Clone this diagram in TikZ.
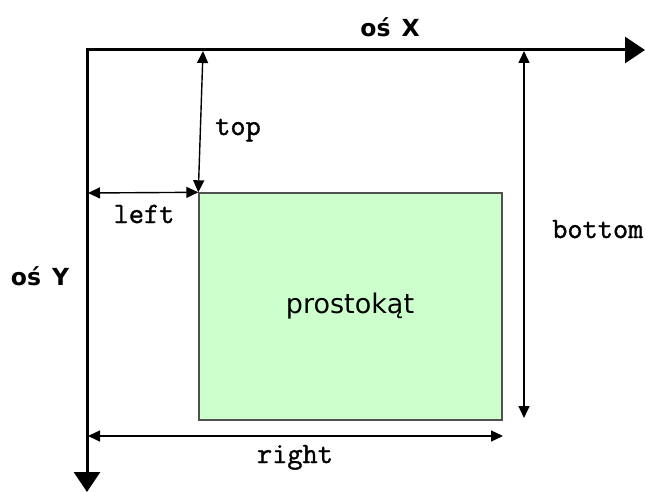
\documentclass[tikz,border=0pt]{standalone}
\usepackage{fontspec}
\setmainfont{DejaVu Sans}
\newfontfamily\axisfont{DejaVu Sans Bold}
\newfontfamily\codefont[FakeBold=1.2]{Latin Modern Mono}
\usetikzlibrary{arrows.meta}
\definecolor{rectfill}{HTML}{CCFFCC}
\definecolor{rectline}{HTML}{505050}
\begin{document}
\begin{tikzpicture}[x=1pt, y=-1pt,
  axis/.style={line width=3pt, {Triangle[length=20pt, width=26pt]}-{Triangle[length=20pt, width=26pt]}},
  dim/.style={line width=1.4pt, {Triangle[length=12pt, width=11pt]}-{Triangle[length=12pt, width=11pt]}},
  axislabel/.style={anchor=base, inner sep=0pt, font=\axisfont\fontsize{23.5}{28}\selectfont},
  dimlabel/.style={anchor=base, inner sep=0pt, font=\codefont\fontsize{29.5}{33}\selectfont},
  rect/.style={draw=rectline, line width=1.4pt, fill=rectfill, minimum width=303pt, minimum height=227pt,
    inner sep=0pt}]
  \useasboundingbox (0,0) rectangle (645,492);
  % coordinate axes
  \coordinate (origin) at (87,50);
  \coordinate (xend) at (645,50);
  \coordinate (yend) at (87,492);
  \draw[axis] (xend) -- (origin) -- (yend);
  \node[axislabel] (xlab) at (390,37) {oś\hspace{11pt}X};
  \node[axislabel] (ylab) at (40,285) {oś\hspace{11pt}Y};
  % the rectangle
  \node[rect] (r) at (350.5,306.5) {};
  \node[anchor=base, inner sep=0pt, font=\fontsize{27}{31}\selectfont] (rlab) at (350,313) {prostokąt};
  % dimension arrows
  \coordinate (topstart) at (203,51);
  \coordinate (leftstart) at (88,193);
  \coordinate (botstart) at (524,51);
  \coordinate (botend) at (524,418);
  \coordinate (rightstart) at (88,436);
  \coordinate (rightend) at (503,436);
  \draw[dim] (topstart) -- (r.north west);
  \draw[dim] (leftstart) -- (r.north west);
  \draw[dim] (botstart) -- (botend);
  \draw[dim] (rightstart) -- (rightend);
  \node[dimlabel] (toplab) at (238,135) {top};
  \node[dimlabel] (leftlab) at (144,223) {left};
  \node[dimlabel, anchor=base west] (botlab) at (552,238) {bottom};
  \node[dimlabel] (rightlab) at (295,463) {right};
\end{tikzpicture}
\end{document}
